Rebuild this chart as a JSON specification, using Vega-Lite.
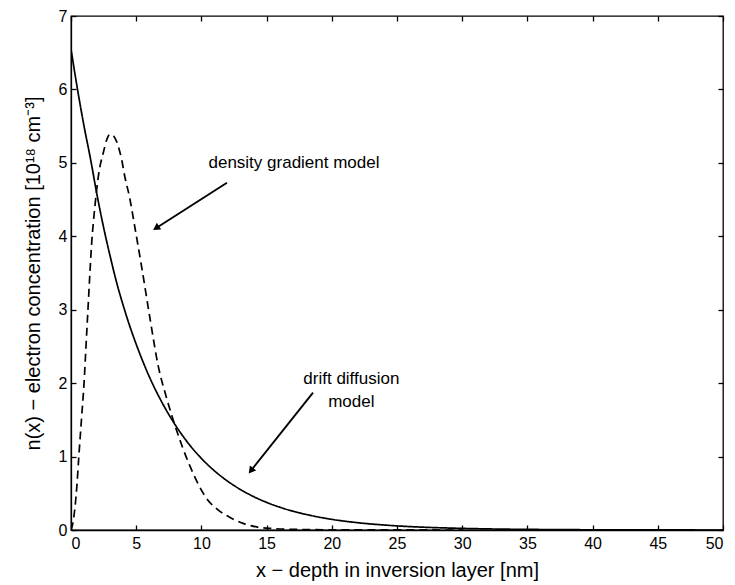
{
  "$schema": "https://vega.github.io/schema/vega-lite/v6.json",
  "width": 652,
  "height": 514,
  "autosize": {"type": "none"},
  "padding": {"left": 71, "top": 16, "right": 12, "bottom": 55},
  "background": "white",
  "config": {
    "font": "Liberation Sans",
    "view": {"stroke": "black", "strokeWidth": 1.3},
    "axis": {
      "domainColor": "black",
      "domainWidth": 1.3,
      "tickColor": "black",
      "tickWidth": 1.3,
      "tickSize": -5,
      "grid": false,
      "labelColor": "black",
      "labelFont": "Liberation Sans",
      "labelFontSize": 16,
      "titleColor": "black",
      "titleFont": "Liberation Sans",
      "titleFontSize": 20,
      "titleFontWeight": "normal"
    }
  },
  "datasets": {
    "curves": [
      {"x": 0, "n": 6.55, "model": "drift diffusion"},
      {"x": 0.5, "n": 6.0, "model": "drift diffusion"},
      {"x": 1, "n": 5.5, "model": "drift diffusion"},
      {"x": 1.5, "n": 5.05, "model": "drift diffusion"},
      {"x": 2, "n": 4.56, "model": "drift diffusion"},
      {"x": 2.5, "n": 4.12, "model": "drift diffusion"},
      {"x": 3, "n": 3.73, "model": "drift diffusion"},
      {"x": 3.5, "n": 3.37, "model": "drift diffusion"},
      {"x": 4, "n": 3.06, "model": "drift diffusion"},
      {"x": 4.5, "n": 2.78, "model": "drift diffusion"},
      {"x": 5, "n": 2.53, "model": "drift diffusion"},
      {"x": 5.5, "n": 2.3, "model": "drift diffusion"},
      {"x": 6, "n": 2.09, "model": "drift diffusion"},
      {"x": 7, "n": 1.73, "model": "drift diffusion"},
      {"x": 8, "n": 1.43, "model": "drift diffusion"},
      {"x": 9, "n": 1.18, "model": "drift diffusion"},
      {"x": 10, "n": 0.975, "model": "drift diffusion"},
      {"x": 11, "n": 0.806, "model": "drift diffusion"},
      {"x": 12, "n": 0.666, "model": "drift diffusion"},
      {"x": 13, "n": 0.551, "model": "drift diffusion"},
      {"x": 14, "n": 0.455, "model": "drift diffusion"},
      {"x": 15, "n": 0.376, "model": "drift diffusion"},
      {"x": 16, "n": 0.311, "model": "drift diffusion"},
      {"x": 17, "n": 0.257, "model": "drift diffusion"},
      {"x": 18, "n": 0.213, "model": "drift diffusion"},
      {"x": 19, "n": 0.176, "model": "drift diffusion"},
      {"x": 20, "n": 0.145, "model": "drift diffusion"},
      {"x": 22, "n": 0.099, "model": "drift diffusion"},
      {"x": 24, "n": 0.068, "model": "drift diffusion"},
      {"x": 26, "n": 0.046, "model": "drift diffusion"},
      {"x": 28, "n": 0.032, "model": "drift diffusion"},
      {"x": 30, "n": 0.022, "model": "drift diffusion"},
      {"x": 33, "n": 0.012, "model": "drift diffusion"},
      {"x": 36, "n": 0.007, "model": "drift diffusion"},
      {"x": 40, "n": 0.003, "model": "drift diffusion"},
      {"x": 45, "n": 0.001, "model": "drift diffusion"},
      {"x": 50, "n": 0.0, "model": "drift diffusion"},
      {"x": 0, "n": 0, "model": "density gradient"},
      {"x": 0.15, "n": 0.1, "model": "density gradient"},
      {"x": 0.3, "n": 0.3, "model": "density gradient"},
      {"x": 0.45, "n": 0.6, "model": "density gradient"},
      {"x": 0.6, "n": 1.0, "model": "density gradient"},
      {"x": 0.8, "n": 1.5, "model": "density gradient"},
      {"x": 1.0, "n": 2.0, "model": "density gradient"},
      {"x": 1.15, "n": 2.5, "model": "density gradient"},
      {"x": 1.3, "n": 3.0, "model": "density gradient"},
      {"x": 1.45, "n": 3.5, "model": "density gradient"},
      {"x": 1.59, "n": 3.92, "model": "density gradient"},
      {"x": 1.71, "n": 4.18, "model": "density gradient"},
      {"x": 1.84, "n": 4.42, "model": "density gradient"},
      {"x": 1.97, "n": 4.64, "model": "density gradient"},
      {"x": 2.17, "n": 4.9, "model": "density gradient"},
      {"x": 2.48, "n": 5.14, "model": "density gradient"},
      {"x": 2.75, "n": 5.32, "model": "density gradient"},
      {"x": 2.99, "n": 5.39, "model": "density gradient"},
      {"x": 3.25, "n": 5.37, "model": "density gradient"},
      {"x": 3.5, "n": 5.29, "model": "density gradient"},
      {"x": 3.89, "n": 5.04, "model": "density gradient"},
      {"x": 4.14, "n": 4.8, "model": "density gradient"},
      {"x": 4.47, "n": 4.55, "model": "density gradient"},
      {"x": 4.9, "n": 4.12, "model": "density gradient"},
      {"x": 5.44, "n": 3.56, "model": "density gradient"},
      {"x": 6.06, "n": 2.88, "model": "density gradient"},
      {"x": 6.67, "n": 2.25, "model": "density gradient"},
      {"x": 7.36, "n": 1.78, "model": "density gradient"},
      {"x": 8.0, "n": 1.41, "model": "density gradient"},
      {"x": 9.1, "n": 0.88, "model": "density gradient"},
      {"x": 10.4, "n": 0.43, "model": "density gradient"},
      {"x": 11.3, "n": 0.27, "model": "density gradient"},
      {"x": 12.2, "n": 0.17, "model": "density gradient"},
      {"x": 13.2, "n": 0.09, "model": "density gradient"},
      {"x": 14.3, "n": 0.04, "model": "density gradient"},
      {"x": 15.5, "n": 0.02, "model": "density gradient"},
      {"x": 16.7, "n": 0.01, "model": "density gradient"},
      {"x": 20, "n": 0.003, "model": "density gradient"},
      {"x": 25, "n": 0.001, "model": "density gradient"},
      {"x": 30, "n": 0.0, "model": "density gradient"}
    ],
    "notes": [
      {"x": 17.1, "y": 5.0, "label": "density gradient model"},
      {"x": 21.5, "y": 2.06, "label": ["drift diffusion", "model"]}
    ],
    "arrows": [
      {"x": 11.96, "y": 4.73, "x2": 6.6, "y2": 4.12, "angle": 237},
      {"x": 18.56, "y": 1.87, "x2": 13.85, "y2": 0.82, "angle": 218}
    ]
  },
  "resolve": {"axis": {"x": "independent", "y": "independent"}},
  "layer": [
    {
      "data": {"name": "curves"},
      "mark": {"type": "line", "color": "black", "strokeWidth": 1.7, "interpolate": "monotone", "clip": true},
      "encoding": {
        "x": {
          "field": "x", "type": "quantitative",
          "scale": {"domain": [0, 50], "nice": false},
          "axis": {"orient": "bottom", "values": [0, 5, 10, 15, 20, 25, 30, 35, 40, 45, 50], "labelPadding": 10, "title": "x − depth in inversion layer [nm]", "titlePadding": 9}
        },
        "y": {
          "field": "n", "type": "quantitative",
          "scale": {"domain": [0, 7], "nice": false},
          "axis": {"orient": "left", "values": [0, 1, 2, 3, 4, 5, 6, 7], "labelPadding": 9, "title": "n(x) − electron concentration [10¹⁸ cm⁻³]", "titlePadding": 15}
        },
        "strokeDash": {
          "field": "model", "type": "nominal",
          "scale": {"domain": ["drift diffusion", "density gradient"], "range": [[1, 0], [8, 5]]},
          "legend": null
        }
      }
    },
    {
      "data": {"name": "arrows"},
      "mark": {"type": "rule", "color": "black", "strokeWidth": 1.9},
      "encoding": {
        "x": {
          "field": "x", "type": "quantitative",
          "scale": {"domain": [0, 50], "nice": false},
          "axis": {"orient": "top", "values": [0, 5, 10, 15, 20, 25, 30, 35, 40, 45, 50], "labels": false, "domain": false, "title": null}
        },
        "y": {
          "field": "y", "type": "quantitative",
          "scale": {"domain": [0, 7], "nice": false},
          "axis": {"orient": "right", "values": [0, 1, 2, 3, 4, 5, 6, 7], "labels": false, "domain": false, "title": null}
        },
        "x2": {"field": "x2"},
        "y2": {"field": "y2"}
      }
    },
    {
      "data": {"name": "arrows"},
      "mark": {"type": "point", "shape": "triangle", "filled": true, "color": "black", "size": 65, "opacity": 1},
      "encoding": {
        "x": {"field": "x2", "type": "quantitative", "scale": {"domain": [0, 50], "nice": false}, "axis": null},
        "y": {"field": "y2", "type": "quantitative", "scale": {"domain": [0, 7], "nice": false}, "axis": null},
        "angle": {"field": "angle", "type": "quantitative", "scale": null}
      }
    },
    {
      "data": {"name": "notes"},
      "mark": {"type": "text", "font": "Liberation Sans", "fontSize": 17, "color": "black", "align": "center", "baseline": "middle", "lineHeight": 23},
      "encoding": {
        "x": {"field": "x", "type": "quantitative", "scale": {"domain": [0, 50], "nice": false}, "axis": null},
        "y": {"field": "y", "type": "quantitative", "scale": {"domain": [0, 7], "nice": false}, "axis": null},
        "text": {"field": "label"}
      }
    }
  ]
}
